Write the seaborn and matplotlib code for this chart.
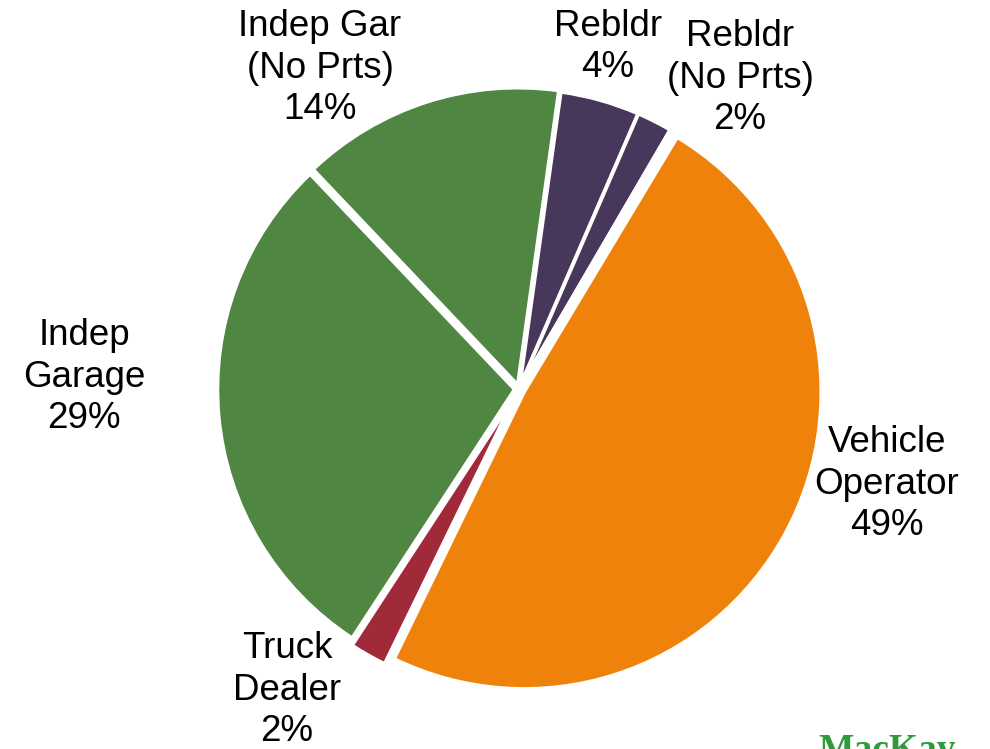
import matplotlib
matplotlib.use("Agg")
import matplotlib.pyplot as plt
import seaborn as sns

# slice data, clockwise starting from the orange slice
segments = ["Vehicle Operator", "Truck Dealer", "Indep Garage", "Indep Gar (No Prts)",
            "Rebldr", "Rebldr (No Prts)", "Other A", "Other B"]
shares = [48.6, 2.0, 28.7, 14.3, 4.3, 1.9, 0.1, 0.1]
colors = ["#EF820A", "#A12A3A", "#4E8642", "#4E8642",
          "#47375A", "#47375A", "#9DB3D8", "#D9A0A0"]

label_texts = ["Vehicle\nOperator\n49%", "Truck\nDealer\n2%", "Indep\nGarage\n29%",
               "Indep Gar\n(No Prts)\n14%", "Rebldr\n4%", "Rebldr\n(No Prts)\n2%"]
# label centres in figure pixels (x from left, y from top)
label_pos = [(887, 484), (287, 690), (84, 377), (320, 68), (608, 47), (740, 78)]

sns.set_theme(style="white")
plt.rcParams['font.family'] = ['Liberation Sans', 'DejaVu Sans']

W, H = 990, 749
fig = plt.figure(figsize=(W / 100, H / 100), dpi=100)

cx, cy, r = 519, 389, 297
ax = fig.add_axes([(cx - r) / W, 1 - (cy + r) / H, 2 * r / W, 2 * r / H])
ax.pie(shares, colors=colors, startangle=90 - 31, counterclock=False,
       explode=[0.02, 0.03, 0.015, 0.015, 0.01, 0.01, 0.01, 0.01],
       wedgeprops=dict(edgecolor="white", linewidth=2.5))
ax.set_xlim(-1, 1)
ax.set_ylim(-1, 1)
ax.set_aspect("equal")
ax.axis("off")
for p in ax.patches:
    p.set_clip_on(False)

for txt, (x, y) in zip(label_texts, label_pos):
    fig.text(x / W, 1 - y / H, txt, ha="center", va="center",
             fontsize=26.5, color="black", linespacing=1.24)

# partially visible logo at bottom right (cut by the edge, as in the source)
fig.text(887 / W, 1 - 733 / H, "MacKay", ha="center", va="top",
         fontsize=27, fontweight="bold", family="Liberation Serif", color="#2E9A3A")

fig.savefig("out.png", dpi=100, facecolor="white")
